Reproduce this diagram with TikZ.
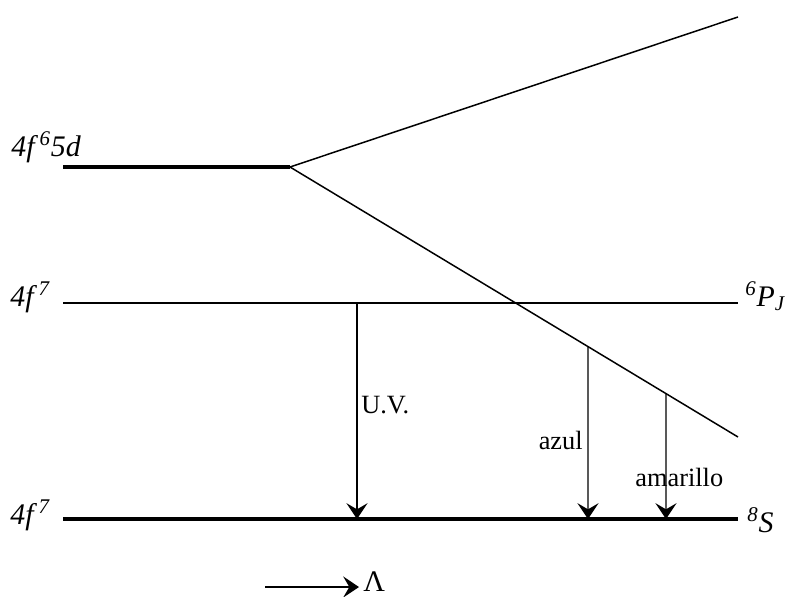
\documentclass[tikz,border=0pt]{standalone}
\usepackage{fontspec}
\setmainfont{Liberation Serif}
\usetikzlibrary{arrows.meta, positioning, calc}
\tikzset{
  level/.style={line width=1.8pt, color=black},
  thinlevel/.style={line width=0.85pt, color=black},
  split/.style={line width=0.85pt, color=black},
  trans/.style={-{Stealth[length=9pt, width=12pt, inset=3.5pt]}, line width=0.75pt},
  lbl/.style={font=\fontsize{17}{20}\selectfont\itshape, inner sep=0pt},
  txt/.style={font=\fontsize{15}{18}\selectfont, inner sep=0pt}
}

\begin{document}
\begin{tikzpicture}[x=0.02cm, y=-0.02cm]
  \useasboundingbox (0,0) rectangle (785,596);

  % Levels
  \coordinate (d5L) at (63,167);
  \coordinate (d5R) at (290,167);
  \coordinate (upT) at (738,17);
  \coordinate (upB) at (738,437);
  \coordinate (pL) at (63,303);
  \coordinate (pR) at (738,303);
  \coordinate (sL) at (63,519);
  \coordinate (sR) at (738,519);

  \draw[level] (d5L) -- (d5R);
  \draw[split] (d5R) -- (upT);
  \draw[split] (d5R) -- (upB);
  \draw[thinlevel] (pL) -- (pR);
  \draw[level] (sL) -- (sR);

  % Level labels
  \node[lbl, anchor=west] (n5d) at (11,147) {4f\,\textsuperscript{6}5d};
  \node[lbl, anchor=west] (n7a) at (10,297) {4f\,\textsuperscript{7}};
  \node[lbl, anchor=west] (n7b) at (10,515) {4f\,\textsuperscript{7}};
  \node[lbl, anchor=west] (nPJ) at ($(pR)+(7,-7)$) {\textsuperscript{6}P\textsubscript{J}};
  \node[lbl, anchor=west] (nS) at ($(sR)+(9,1)$) {\textsuperscript{8}S};

  % Transitions
  \coordinate (uvT) at (357,303);
  \coordinate (uvB) at (357,519);
  \coordinate (azB) at (588,519);
  \coordinate (amB) at (666,519);
  \path (d5R) -- (upB) coordinate[pos=0.6652] (azT) coordinate[pos=0.8393] (amT);

  \draw[trans] (uvT) -- (uvB);
  \draw[trans] (azT) -- (azB);
  \draw[trans] (amT) -- (amB);

  \node[txt, anchor=west] (uv) at (361,405) {U.V.};
  \node[txt, anchor=east] (az) at (583,440) {azul};
  \node[txt, anchor=west] (am) at (635,477) {amarillo};

  % Energy axis
  \coordinate (ax0) at (265,587);
  \coordinate (ax1) at (359,587);
  \draw[trans] (ax0) -- (ax1);
  \node[txt, anchor=west, font=\fontsize{17}{20}\selectfont] (lam) at (363,582) {Λ};
\end{tikzpicture}
\end{document}
